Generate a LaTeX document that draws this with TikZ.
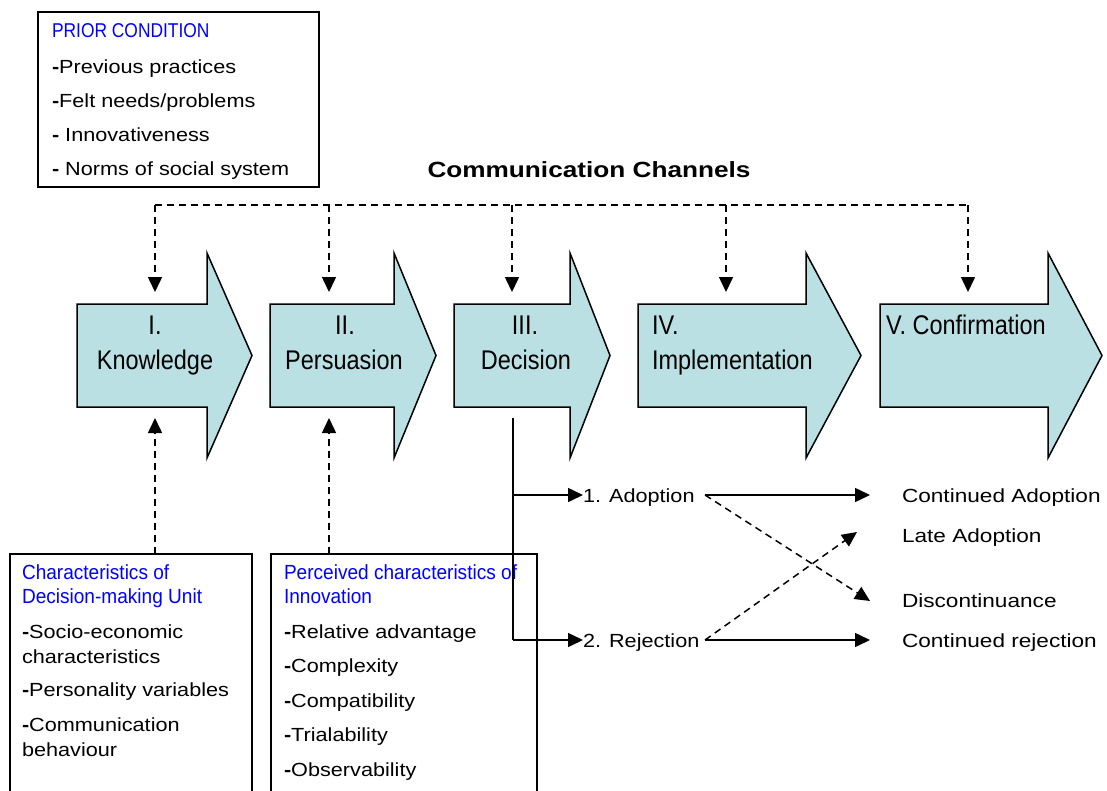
\documentclass[tikz,border=0pt]{standalone}
\usepackage{fontspec}
\setmainfont{Liberation Sans}
\newfontfamily\bodyf[FakeStretch=1.14]{Liberation Sans}
\newfontfamily\rightf[FakeStretch=1.19]{Liberation Sans}
\newfontfamily\titlef[FakeStretch=1.19]{Liberation Sans}
\newfontfamily\stagef[FakeStretch=0.87]{Liberation Sans}
\newfontfamily\headf[FakeStretch=0.93]{Liberation Sans}
\newfontfamily\priorf[FakeStretch=0.87]{Liberation Sans}
\usetikzlibrary{arrows.meta}
\definecolor{stagefill}{RGB}{187,224,227}
\definecolor{headblue}{RGB}{0,0,255}
\newcommand\dsh{\textbf{-}}
\tikzset{
  txt/.style={inner sep=0pt, outer sep=0pt, anchor=base west, font=\bodyf\fontsize{19}{23}\selectfont},
  rtxt/.style={txt, font=\rightf\fontsize{19}{23}\selectfont},
  headtxt/.style={inner sep=0pt, outer sep=0pt, anchor=base west, text=headblue, font=\headf\fontsize{20.5}{24}\selectfont},
  priortxt/.style={inner sep=0pt, outer sep=0pt, anchor=base west, text=headblue, font=\priorf\fontsize{20}{24}\selectfont},
  titletxt/.style={inner sep=0pt, outer sep=0pt, anchor=base, font=\titlef\bfseries\fontsize{22}{26}\selectfont},
  stagetxt/.style={inner sep=0pt, outer sep=0pt, anchor=base, font=\stagef\fontsize{27}{32}\selectfont},
  stagetxtl/.style={stagetxt, anchor=base west},
  framebox/.style={draw, line width=1.8pt, inner sep=0pt, outer sep=0pt, anchor=north west},
  stage/.style={draw, fill=stagefill, line width=1.5pt, line join=miter},
  chan/.style={line width=1.5pt, dash pattern=on 7pt off 5pt},
  conn/.style={line width=1.5pt},
  tip/.style={-{Triangle[length=15pt,width=14pt]}}
}
\begin{document}
\begin{tikzpicture}[x=1pt,y=-1pt]
\path[use as bounding box, clip] (0,0) rectangle (1107,790);
\fill[white] (0,0) rectangle (1107,790);

% ---- prior condition box
\node[framebox, minimum width=281pt, minimum height=175pt] (prior) at (38,12) {};
\node[priortxt] (pc0) at (52,37) {PRIOR CONDITION};
\node[txt] (pc1) at (52,73) {\dsh Previous practices};
\node[txt] (pc2) at (52,107) {\dsh Felt needs/problems};
\node[txt] (pc3) at (52,141) {\dsh{} Innovativeness};
\node[txt] (pc4) at (52,175) {\dsh{} Norms of social system};

% ---- title
\node[titletxt] (title) at (589,177) {Communication Channels};

% ---- stage arrows
\draw[stage] (77,304) -- (207,304) -- (207,253) -- (252,355.5) -- (207,458) -- (207,407) -- (77,407) -- cycle;
\draw[stage] (270,304) -- (394,304) -- (394,253) -- (436,355.5) -- (394,458) -- (394,407) -- (270,407) -- cycle;
\draw[stage] (454,304) -- (570,304) -- (570,253) -- (610,355.5) -- (570,458) -- (570,407) -- (454,407) -- cycle;
\draw[stage] (638,304) -- (806,304) -- (806,253) -- (861,355.5) -- (806,458) -- (806,407) -- (638,407) -- cycle;
\draw[stage] (880,304) -- (1048,304) -- (1048,253) -- (1102,355.5) -- (1048,458) -- (1048,407) -- (880,407) -- cycle;

\node[stagetxt] (s1a) at (155,334) {I.};
\node[stagetxt] (s1b) at (155,369) {Knowledge};
\node[stagetxt] (s2a) at (345,334) {II.};
\node[stagetxt] (s2b) at (344,369) {Persuasion};
\node[stagetxt] (s3a) at (525,334) {III.};
\node[stagetxt] (s3b) at (526,369) {Decision};
\node[stagetxtl] (s4a) at (652,334) {IV.};
\node[stagetxtl] (s4b) at (652,369) {Implementation};
\node[stagetxtl] (s5a) at (886,334) {V. Confirmation};

% ---- communication channels (dashed)
\coordinate (cc1) at (155,205);
\coordinate (cc2) at (329,205);
\coordinate (cc3) at (512,205);
\coordinate (cc4) at (726,205);
\coordinate (cc5) at (968,205);
\coordinate (in1) at (155,292);
\coordinate (in2) at (329,292);
\coordinate (in3) at (512,292);
\coordinate (in4) at (726,292);
\coordinate (in5) at (968,292);
\draw[chan] (cc1) -- (cc5);
\draw[chan,tip] (cc1) -- (in1);
\draw[chan,tip] (cc2) -- (in2);
\draw[chan,tip] (cc3) -- (in3);
\draw[chan,tip] (cc4) -- (in4);
\draw[chan,tip] (cc5) -- (in5);

% ---- bottom boxes
\node[framebox, minimum width=242pt, minimum height=260pt] (dmu) at (10,554) {};
\node[framebox, minimum width=266pt, minimum height=260pt] (pci) at (271,554) {};

\node[headtxt] (d0) at (22,579) {Characteristics of};
\node[headtxt] (d1) at (22,603) {Decision-making Unit};
\node[txt] (d2) at (22,638) {\dsh Socio-economic};
\node[txt] (d3) at (22,663) {characteristics};
\node[txt] (d4) at (22,696) {\dsh Personality variables};
\node[txt] (d5) at (22,731) {\dsh Communication};
\node[txt] (d6) at (22,756) {behaviour};

\node[headtxt] (p0) at (284,579) {Perceived characteristics of};
\node[headtxt] (p1) at (284,603) {Innovation};
\node[txt] (p2) at (284,638) {\dsh Relative advantage};
\node[txt] (p3) at (284,672) {\dsh Complexity};
\node[txt] (p4) at (284,707) {\dsh Compatibility};
\node[txt] (p5) at (284,741) {\dsh Trialability};
\node[txt] (p6) at (284,776) {\dsh Observability};

\coordinate (up1) at (155,418);
\coordinate (up2) at (329,418);
\draw[chan,tip] (dmu.north west -| up1) -- (up1);
\draw[chan,tip] (pci.north west -| up2) -- (up2);

% ---- decision outcomes
\coordinate (decout) at (513,418);
\coordinate (decmid) at (513,495);
\coordinate (declow) at (513,640);
\node[txt] (adopt) at (583,502) {1. Adoption};
\node[txt] (reject) at (583,647) {2. Rejection};
\draw[conn] (decout) -- (declow);
\draw[conn,tip] (decmid) -- (decmid -| adopt.west);
\draw[conn,tip] (declow) -- (declow -| reject.west);

\node[rtxt] (cadopt) at (902,502) {Continued Adoption};
\node[rtxt] (late) at (902,542) {Late Adoption};
\node[rtxt] (discont) at (902,607) {Discontinuance};
\node[rtxt] (creject) at (902,647) {Continued rejection};

\coordinate (aout) at (705,495);
\coordinate (rout) at (705,640);
\coordinate (cain) at (870,495);
\coordinate (latein) at (857,532);
\coordinate (discin) at (870,601);
\coordinate (crin) at (870,640);
\draw[conn,tip] (aout) -- (cain);
\draw[chan,tip] (aout) -- (discin);
\draw[chan,tip] (rout) -- (latein);
\draw[conn,tip] (rout) -- (crin);
\end{tikzpicture}
\end{document}
